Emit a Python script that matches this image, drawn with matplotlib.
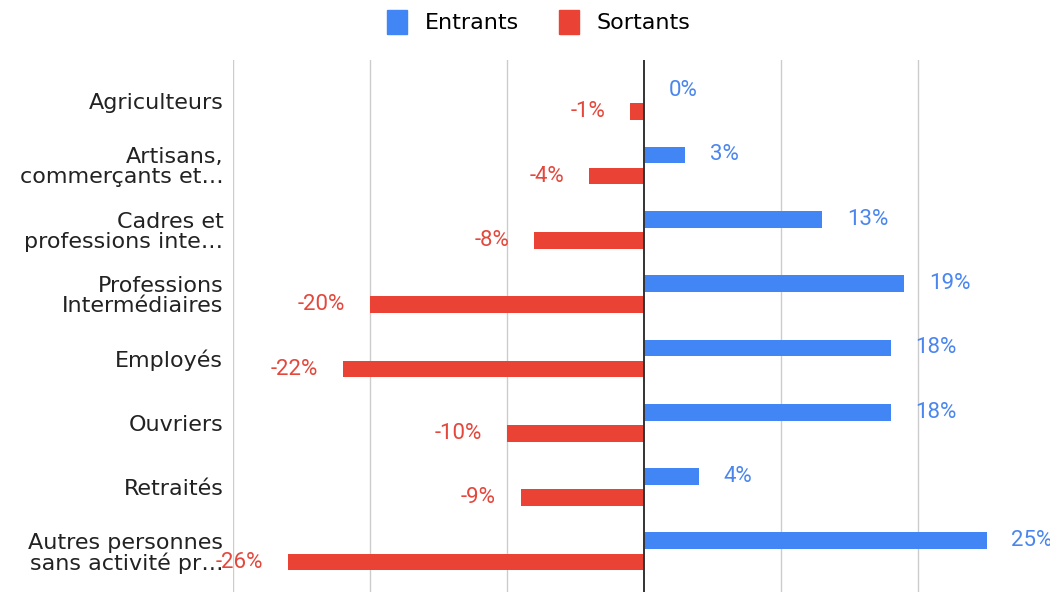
import numpy as np
import matplotlib.pyplot as plt
from matplotlib.patches import Patch

categories = ['Agriculteurs', 'Artisans,\ncommerçants et…', 'Cadres et\nprofessions inte…',
              'Professions\nIntermédiaires', 'Employés', 'Ouvriers', 'Retraités',
              'Autres personnes\nsans activité pr…']
entrants = [0, 3, 13, 19, 18, 18, 4, 25]
sortants = [-1, -4, -8, -20, -22, -10, -9, -26]

BLUE = '#4285F4'
RED = '#EA4335'

fig = plt.figure(figsize=(10.5, 5.92), dpi=100)
ax = fig.add_axes([233 / 1050, 0.0, 817 / 1050, 1 - 60 / 592])

y = np.arange(len(categories))
h = 0.26
ax.barh(y - 0.165, entrants, height=h, color=BLUE, zorder=3)
ax.barh(y + 0.165, sortants, height=h, color=RED, zorder=3)

# value labels sit just outside the end of each bar
for i in range(len(categories)):
    ax.annotate('{}%'.format(entrants[i]), (entrants[i], y[i] - 0.165),
                xytext=(25, 0), textcoords='offset pixels', ha='left', va='center',
                color='#4A86EE', fontsize=16, family='Roboto')
    ax.annotate('{}%'.format(sortants[i]), (sortants[i], y[i] + 0.165),
                xytext=(-25, 0), textcoords='offset pixels', ha='right', va='center',
                color='#E4473B', fontsize=16, family='Roboto')

ax.set_xlim(-30, -30 + 817 / 13.7)
ax.set_ylim(7.63, -0.64)
ax.set_xticks([-30, -20, -10, 10, 20])
ax.set_xticklabels([])
ax.tick_params(length=0)
ax.grid(axis='x', color='#cccccc', linewidth=1, zorder=0)
ax.axvline(0, color='#333333', linewidth=1.4, zorder=4)
for s in ax.spines.values():
    s.set_visible(False)

ax.set_yticks(y)
ax.set_yticklabels(categories, fontsize=16, family='DejaVu Sans', color='#222222',
                   linespacing=1.0)
ax.tick_params(axis='y', pad=7)
for lbl in ax.get_yticklabels():
    lbl.set_horizontalalignment('right')

handles = [Patch(color=BLUE, label='Entrants'), Patch(color=RED, label='Sortants')]
fig.legend(handles=handles, loc='center', bbox_to_anchor=(0.513, 1 - 22 / 592), ncol=2,
           frameon=False, prop={'family': 'DejaVu Sans', 'size': 16},
           handlelength=0.9, handleheight=1.3, handletextpad=0.8, columnspacing=1.8)

fig.savefig('out.png', dpi=100)
